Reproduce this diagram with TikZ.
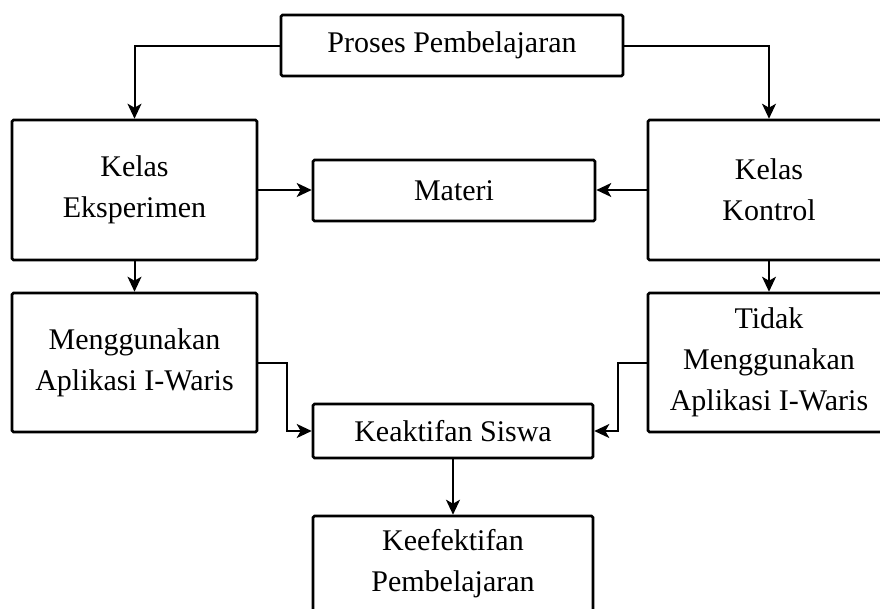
\documentclass[tikz,border=0pt]{standalone}
\usepackage{fontspec}
\setmainfont{Liberation Serif}
\usepackage{tikz}
\usetikzlibrary{arrows.meta,positioning,calc}

\begin{document}
\begin{tikzpicture}
[x = 1pt, y = -1pt, >={Stealth[length=15pt,width=14pt,inset=4pt]},
 box/.style = {draw, line width = 2.6pt, rounded corners = 1.5pt, inner sep = 0pt, align = center,
   font = \fontsize{30}{41}\selectfont},
 link/.style = {->, line width = 2pt}]
\useasboundingbox (0,0) rectangle (880,608);
\clip (0,0) rectangle (880,608);
\node (proses) at (452,45.5)[box,minimum width=342pt,minimum height=61pt] {Proses Pembelajaran};
\node (eksperimen) at (134.5,190)[box,minimum width=245pt,minimum height=140pt] {Kelas\\Eksperimen};
\node (materi) at (454,190.5)[box,minimum width=282pt,minimum height=61pt] {Materi};
\node (kontrol) at (769,190)[box,minimum width=242pt,minimum height=140pt] {Kelas\\Kontrol};
\node (pakai) at (134.5,362.5)[box,minimum width=245pt,minimum height=139pt] {Menggunakan\\Aplikasi I-Waris};
\node (tidak) at (769,362.5)[box,minimum width=242pt,minimum height=139pt] {Tidak\\Menggunakan\\Aplikasi I-Waris};
\node (aktif) at (453,431)[box,minimum width=280pt,minimum height=54pt] {Keaktifan Siswa};
\node (efektif) at (453,564)[box,minimum width=280pt,minimum height=96pt] {Keefektifan\\Pembelajaran};
\draw [link] (proses.west) -| (eksperimen.north);
\draw [link] (proses.east) -| (kontrol.north);
\draw [link] (eksperimen.east) -- (materi.west |- eksperimen.east);
\draw [link] (kontrol.west) -- (materi.east |- kontrol.west);
\draw [link] (eksperimen) -- (pakai);
\draw [link] (kontrol) -- (tidak);
\draw [link] (pakai.east) -- ++(29,0) |- (aktif.west);
\draw [link] (tidak.west) -- ++(-29,0) |- (aktif.east);
\draw [link] (aktif) -- (efektif);
\end{tikzpicture}
\end{document}
